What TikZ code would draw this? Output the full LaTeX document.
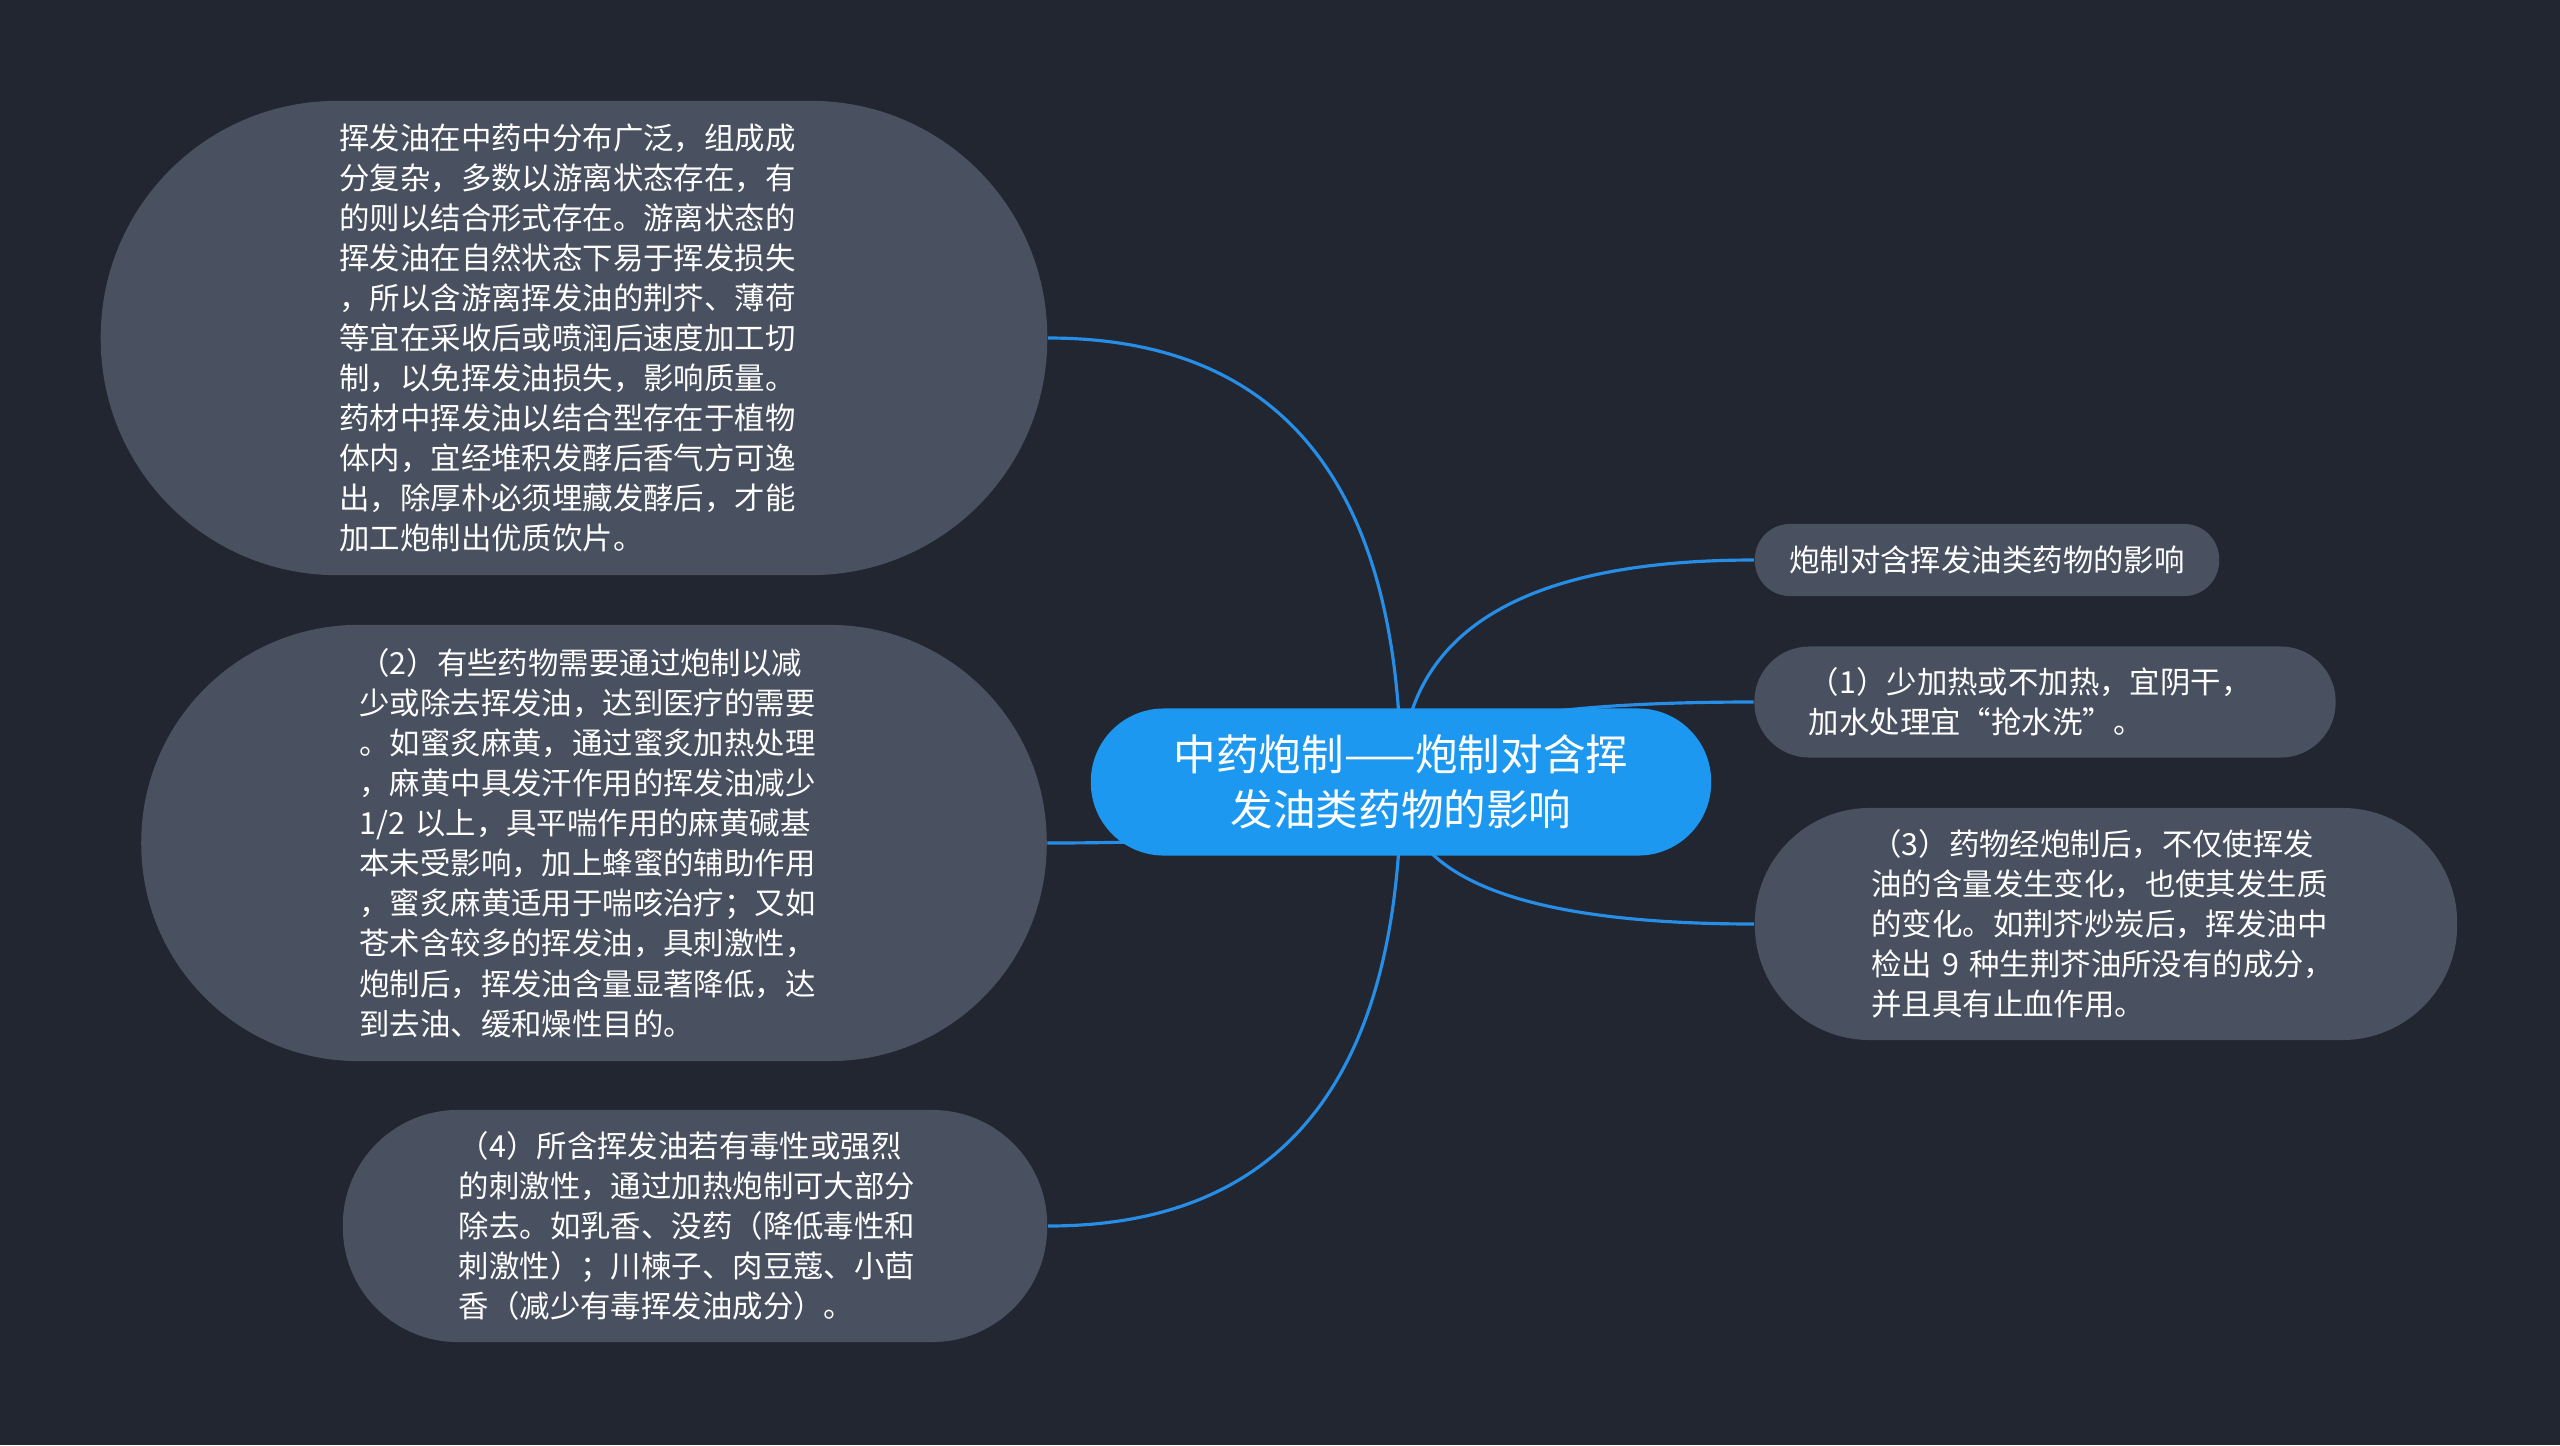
\documentclass[tikz,border=0pt]{standalone}
\usepackage{fontspec}
\newfontfamily\cjk{Noto Sans CJK SC}
\usetikzlibrary{calc,backgrounds}
\definecolor{bgdark}{RGB}{34,38,49}
\definecolor{leafgray}{RGB}{73,80,95}
\definecolor{hubblue}{RGB}{28,152,240}
\definecolor{twigblue}{RGB}{38,142,230}
\tikzset{
  leaf/.style={draw=none,fill=leafgray,text=white,align=left,inner sep=0pt,text width=4.69cm,
    font=\cjk\fontsize{8.65}{11.4}\selectfont},
  hub/.style={draw=none,fill=hubblue,text=white,align=center,inner sep=0pt,
    font=\cjk\fontsize{12.1}{15.8}\selectfont},
  twig/.style={draw=twigblue,line width=0.9pt}
}
\newcommand{\twig}[2]{\draw[twig] (#1.center) .. controls ($(#1.center)!0.667!(#1.center |- #2)$) and ($(#2)!0.667!(#1.center |- #2)$) .. (#2);}
\begin{document}
\begin{tikzpicture}[x=0.01cm,y=-0.01cm]
  \useasboundingbox (0,0) rectangle (2560,1445);
  \node[hub,minimum width=6.2cm,minimum height=1.47cm,rounded corners=0.73cm] (hub) at (1401,782) {中药炮制——炮制对含挥\\发油类药物的影响};
  \node[leaf,minimum width=9.46cm,minimum height=4.74cm,rounded corners=2.36cm] (oil) at (574,338) {挥发油在中药中分布广泛，组成成\\分复杂，多数以游离状态存在，有\\的则以结合形式存在。游离状态的\\挥发油在自然状态下易于挥发损失\\，所以含游离挥发油的荆芥、薄荷\\等宜在采收后或喷润后速度加工切\\制，以免挥发油损失，影响质量。\\药材中挥发油以结合型存在于植物\\体内，宜经堆积发酵后香气方可逸\\出，除厚朴必须埋藏发酵后，才能\\加工炮制出优质饮片。};
  \node[leaf,minimum width=9.05cm,minimum height=4.36cm,rounded corners=2.17cm] (two) at (594,843) {（2）有些药物需要通过炮制以减\\少或除去挥发油，达到医疗的需要\\。如蜜炙麻黄，通过蜜炙加热处理\\，麻黄中具发汗作用的挥发油减少\\1/2 以上，具平喘作用的麻黄碱基\\本未受影响，加上蜂蜜的辅助作用\\，蜜炙麻黄适用于喘咳治疗；又如\\苍术含较多的挥发油，具刺激性，\\炮制后，挥发油含量显著降低，达\\到去油、缓和燥性目的。};
  \node[leaf,text width=4.72cm,minimum width=7.04cm,minimum height=2.32cm,rounded corners=1.15cm] (four) at (695,1226) {（4）所含挥发油若有毒性或强烈\\的刺激性，通过加热炮制可大部分\\除去。如乳香、没药（降低毒性和\\刺激性）；川楝子、肉豆蔻、小茴\\香（减少有毒挥发油成分）。};
  \node[leaf,text width=,align=center,minimum width=4.64cm,minimum height=0.72cm,rounded corners=0.35cm] (topic) at (1987,560) {炮制对含挥发油类药物的影响};
  \node[leaf,text width=4.72cm,minimum width=5.81cm,minimum height=1.11cm,rounded corners=0.55cm] (one) at (2045,702) {（1）少加热或不加热，宜阴干，\\加水处理宜“抢水洗”。};
  \node[leaf,minimum width=7.02cm,minimum height=2.32cm,rounded corners=1.15cm] (three) at (2106,924) {（3）药物经炮制后，不仅使挥发\\油的含量发生变化，也使其发生质\\的变化。如荆芥炒炭后，挥发油中\\检出 9 种生荆芥油所没有的成分，\\并且具有止血作用。};
  \begin{pgfonlayer}{background}
    \fill[bgdark] (0,0) rectangle (2560,1445);
    \twig{hub}{oil.east}
    \twig{hub}{two.east}
    \twig{hub}{four.east}
    \twig{hub}{topic.west}
    \twig{hub}{one.west}
    \twig{hub}{three.west}
  \end{pgfonlayer}
\end{tikzpicture}
\end{document}
